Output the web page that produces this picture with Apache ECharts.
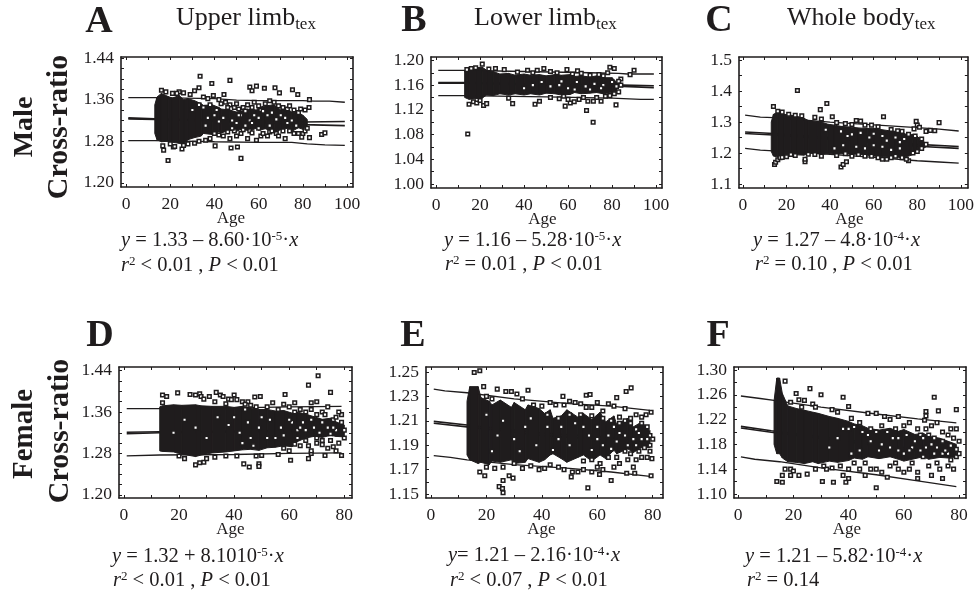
<!DOCTYPE html>
<html><head><meta charset="utf-8">
<style>html,body{margin:0;padding:0;background:#fff}#c{width:977px;height:592px}</style>
<script src="https://cdn.jsdelivr.net/npm/echarts@6/dist/echarts.min.js"></script>
</head><body><div id="c"></div>
<script>
const xTicks100=[0,10,20,30,40,50,60,70,80,90,100];
const xLabels100=[0,20,40,60,80,100];
const xTicks80=[0,10,20,30,40,50,60,70,80];
const xLabels80=[0,20,40,60,80];

const yLabelsA=[1.20,1.28,1.36,1.44];
const yLabelsB=[1.00,1.04,1.08,1.12,1.16,1.20];
const yLabelsC=[1.1,1.2,1.3,1.4,1.5];
const yLabelsD=[1.20,1.28,1.36,1.44];
const yLabelsE=[1.15,1.17,1.19,1.21,1.23,1.25];
const yLabelsF=[1.10,1.14,1.18,1.22,1.26,1.30];

const yTicksA=[1.20,1.22,1.24,1.26,1.28,1.30,1.32,1.34,1.36,1.38,1.40,1.42,1.44];
const yTicksB=[1.00,1.02,1.04,1.06,1.08,1.10,1.12,1.14,1.16,1.18,1.20];
const yTicksC=[1.10,1.15,1.20,1.25,1.30,1.35,1.40,1.45,1.50];
const yTicksD=yTicksA;
const yTicksE=[1.15,1.16,1.17,1.18,1.19,1.20,1.21,1.22,1.23,1.24,1.25];
const yTicksF=[1.10,1.12,1.14,1.16,1.18,1.20,1.22,1.24,1.26,1.28,1.30];

/* prediction / confidence lines: [age, ratio] */
const upperA=[[1,1.364],[13,1.364],[40,1.362],[50,1.359],[60,1.358],[70,1.358],[80,1.358],[85,1.357],[92,1.357],[99,1.355]];
const midHiA=[[1,1.325],[13,1.323],[60,1.319],[80,1.317],[99,1.318]];
const midLoA=[[1,1.323],[13,1.322],[60,1.316],[80,1.312],[99,1.310]];
const lowerA=[[1,1.281],[13,1.281],[40,1.279],[60,1.278],[75,1.278],[82,1.275],[90,1.273],[99,1.272]];

const upperB=[[1,1.184],[13,1.184],[40,1.182],[70,1.180],[83,1.179],[87,1.178],[99,1.178]];
const midHiB=[[1,1.164],[13,1.164],[60,1.161],[85,1.160],[99,1.159]];
const midLoB=[[1,1.163],[13,1.163],[60,1.159],[85,1.158],[99,1.156]];
const lowerB=[[1,1.143],[13,1.143],[50,1.141],[80,1.139],[93,1.137],[99,1.137]];

const upperC=[[1,1.322],[8,1.316],[14,1.314],[40,1.300],[60,1.291],[80,1.282],[90,1.277],[99,1.271]];
const midHiC=[[1,1.268],[14,1.263],[50,1.245],[80,1.228],[99,1.221]];
const midLoC=[[1,1.263],[14,1.258],[50,1.240],[80,1.222],[99,1.215]];
const lowerC=[[1,1.215],[8,1.209],[14,1.207],[40,1.196],[60,1.186],[80,1.175],[90,1.171],[99,1.167]];

const upperD=[[1,1.3665],[13,1.3665],[40,1.368],[60,1.370],[79,1.371]];
const midHiD=[[1,1.321],[13,1.322],[50,1.324],[79,1.328]];
const midLoD=[[1,1.318],[13,1.320],[50,1.322],[79,1.324]];
const lowerD=[[1,1.2755],[13,1.277],[40,1.278],[60,1.280],[79,1.281]];

const upperE=[[1,1.236],[5,1.2345],[13,1.233],[30,1.228],[50,1.224],[65,1.222],[79,1.2185]];
const midHiE=[[1,1.2095],[13,1.2065],[40,1.200],[60,1.197],[79,1.193]];
const midLoE=[[1,1.208],[13,1.205],[40,1.198],[60,1.195],[79,1.190]];
const lowerE=[[1,1.1815],[7,1.180],[13,1.178],[30,1.174],[50,1.171],[65,1.168],[79,1.1645]];

const upperF=[[1,1.258],[8,1.254],[13,1.251],[30,1.240],[50,1.229],[65,1.221],[79,1.2147]];
const midHiF=[[1,1.209],[12,1.202],[40,1.187],[60,1.175],[79,1.163]];
const midLoF=[[1,1.2065],[12,1.1995],[40,1.184],[60,1.172],[79,1.159]];
const lowerF=[[1,1.160],[6,1.156],[15,1.152],[30,1.142],[50,1.131],[65,1.121],[79,1.112]];

/* solid overplotted mass of squares: [age, low, high] */
const coreA=[[13,1.295,1.35],[14,1.283,1.365],[16,1.279,1.372],[19,1.280,1.366],[21,1.278,1.363],[24,1.276,1.368],[26,1.274,1.360],[28,1.283,1.362],[31,1.287,1.358],[34,1.290,1.352],[35,1.295,1.349],[39,1.293,1.350],[42,1.298,1.345],[43,1.296,1.342],[47,1.301,1.340],[50,1.299,1.336],[52,1.303,1.338],[56,1.300,1.342],[59,1.305,1.340],[60,1.301,1.345],[63,1.304,1.348],[67,1.298,1.350],[70,1.302,1.340],[73,1.305,1.342],[75,1.299,1.336],[78,1.306,1.335],[80,1.303,1.330],[82,1.31,1.322]];
const coreB=[[13,1.14,1.183],[15,1.137,1.186],[18,1.138,1.188],[21,1.139,1.189],[23,1.144,1.184],[26,1.143,1.182],[29,1.146,1.178],[33,1.144,1.179],[36,1.146,1.176],[40,1.144,1.178],[43,1.146,1.176],[47,1.144,1.177],[50,1.147,1.175],[54,1.146,1.177],[57,1.144,1.176],[61,1.145,1.177],[63,1.148,1.174],[66,1.146,1.175],[70,1.147,1.173],[73,1.148,1.175],[76,1.146,1.172],[80,1.148,1.172],[82,1.15,1.165]];
const coreC=[[13,1.205,1.30],[14,1.19,1.325],[16,1.187,1.332],[19,1.190,1.325],[22,1.196,1.322],[25,1.194,1.318],[28,1.193,1.312],[30,1.20,1.305],[34,1.200,1.302],[36,1.194,1.30],[39,1.199,1.293],[42,1.196,1.290],[45,1.199,1.286],[49,1.196,1.284],[53,1.196,1.281],[57,1.193,1.279],[60,1.190,1.280],[64,1.188,1.275],[67,1.187,1.272],[70,1.187,1.270],[73,1.185,1.265],[76,1.190,1.258],[78,1.195,1.260],[80,1.20,1.254],[82,1.212,1.24],[84,1.22,1.232]];
const coreD=[[13,1.285,1.37],[14,1.284,1.372],[18,1.283,1.374],[21,1.279,1.373],[26,1.274,1.374],[28,1.277,1.372],[32,1.281,1.371],[37,1.283,1.371],[40,1.285,1.369],[43,1.287,1.371],[46,1.288,1.368],[49,1.286,1.365],[52,1.291,1.365],[55,1.292,1.362],[58,1.295,1.363],[61,1.293,1.358],[63,1.303,1.360],[66,1.31,1.356],[69,1.313,1.351],[72,1.311,1.346],[75,1.315,1.348],[77,1.313,1.341],[80,1.312,1.335]];
const coreE=[[13,1.182,1.226],[14,1.178,1.238],[17,1.175,1.238],[18,1.176,1.229],[21,1.174,1.226],[22,1.177,1.223],[25,1.176,1.227],[29,1.178,1.221],[30,1.175,1.225],[34,1.176,1.219],[35,1.179,1.223],[39,1.176,1.22],[41,1.178,1.216],[43,1.182,1.219],[44,1.183,1.212],[47,1.179,1.214],[49,1.176,1.219],[53,1.18,1.213],[55,1.182,1.216],[58,1.177,1.211],[61,1.182,1.217],[63,1.179,1.209],[66,1.186,1.214],[67,1.183,1.207],[71,1.187,1.212],[73,1.184,1.205],[76,1.188,1.209],[79,1.188,1.202]];
const coreF=[[13,1.18,1.25],[14,1.165,1.287],[15,1.165,1.287],[16,1.158,1.262],[18,1.152,1.242],[21,1.151,1.238],[24,1.149,1.235],[27,1.152,1.232],[29,1.149,1.23],[33,1.153,1.225],[36,1.151,1.222],[40,1.154,1.217],[42,1.158,1.213],[45,1.156,1.21],[47,1.16,1.206],[51,1.157,1.203],[55,1.16,1.206],[58,1.156,1.201],[60,1.153,1.204],[64,1.157,1.196],[67,1.16,1.198],[69,1.156,1.193],[73,1.159,1.19],[76,1.158,1.185],[79,1.162,1.18]];

/* individually visible squares: [age, ratio] */
const pointsA=[[33.5,1.405],[38.8,1.391],[47,1.397],[31,1.377],[33,1.383],[24,1.375],[26,1.373],[19,1.243],[52,1.247],[17,1.263],[16.6,1.271],[56,1.384],[59,1.386],[57,1.377],[62.6,1.382],[67.4,1.383],[69.4,1.373],[75.3,1.379],[77.7,1.37],[44.3,1.37],[39.5,1.368],[88.5,1.293],[90,1.296],[50.4,1.269],[47.5,1.267],[40.3,1.271],[21.4,1.269],[25.3,1.265],[79.5,1.288],[83,1.287],[83,1.36],[82.8,1.345],[81,1.34],[78,1.335],[16,1.378],[18,1.375],[21,1.372],[23,1.372],[29,1.37],[35,1.365],[37,1.362],[42,1.36],[43,1.352],[45,1.355],[47,1.35],[49,1.345],[50,1.352],[51,1.342],[53,1.345],[54,1.338],[55,1.35],[57,1.345],[58,1.355],[60,1.348],[61,1.34],[63,1.352],[65,1.358],[67,1.355],[69,1.348],[71,1.345],[73,1.342],[74,1.348],[76,1.34],[79,1.342],[40,1.295],[42,1.292],[44,1.29],[46,1.298],[47,1.285],[49,1.30],[50,1.29],[52,1.295],[53,1.302],[55,1.285],[56,1.30],[57,1.296],[59,1.282],[60,1.305],[61,1.29],[62,1.295],[64,1.29],[65,1.298],[66,1.30],[68,1.295],[69,1.29],[71,1.30],[72,1.285],[74,1.30],[76,1.295],[78,1.295],[80,1.295],[81,1.30],[82,1.305],[33,1.28],[36,1.282],[38,1.285],[20,1.275],[22,1.27],[26,1.272],[28,1.275],[31,1.276],[35,1.345],[38,1.35],[40,1.33],[44,1.325],[48,1.32],[52,1.33],[56,1.32],[60,1.325],[64,1.33],[68,1.322],[72,1.325],[36,1.31],[42,1.318],[50,1.315],[58,1.33],[66,1.335],[75,1.32],[46,1.345],[51,1.33],[54,1.31],[57,1.315],[62,1.338],[70,1.33],[73,1.315],[77,1.31],[41,1.34],[37,1.325],[33,1.35],[30,1.34],[48,1.305],[65,1.31]];
const pointsB=[[68.4,1.119],[71.4,1.10],[34.8,1.13],[58.7,1.126],[81.8,1.128],[21,1.194],[79,1.189],[81,1.187],[90,1.184],[88.2,1.177],[15,1.129],[21.6,1.127],[23,1.13],[45,1.129],[31,1.185],[41.6,1.184],[46,1.184],[49,1.187],[59.5,1.185],[64.3,1.183],[84,1.17],[83,1.166],[61,1.131],[62.8,1.133],[69,1.134],[71.5,1.134],[75,1.134],[17,1.133],[18.5,1.131],[20,1.135],[33,1.139],[47,1.134],[52,1.14],[56,1.138],[58,1.142],[60,1.137],[65,1.137],[67,1.14],[73,1.14],[77,1.142],[79,1.143],[81,1.146],[83,1.149],[82,1.158],[84,1.16],[78,1.18],[76,1.175],[74,1.177],[70,1.176],[66,1.179],[62,1.178],[55,1.18],[52,1.182],[44,1.18],[37,1.181],[27,1.187],[14,1.185],[16,1.187],[18,1.188],[24,1.186],[40,1.155],[44,1.16],[48,1.165],[52,1.158],[56,1.16],[60,1.155],[64,1.165],[68,1.158],[72,1.162],[76,1.16],[80,1.165],[57,1.166],[63,1.153],[70,1.153],[75,1.155],[14.4,1.081]];
const pointsC=[[25,1.402],[38.5,1.36],[35.5,1.34],[14,1.35],[41,1.317],[64.5,1.317],[90,1.298],[79.5,1.302],[80,1.29],[78.5,1.278],[81,1.283],[84,1.27],[86,1.273],[88,1.272],[45,1.155],[46,1.163],[47.5,1.172],[14.5,1.163],[15,1.17],[16,1.178],[17,1.185],[28.5,1.172],[28.5,1.18],[16,1.335],[18,1.332],[21,1.325],[24,1.322],[27,1.32],[33,1.315],[36,1.31],[52,1.305],[54,1.303],[43,1.298],[47,1.295],[50,1.292],[56,1.29],[59,1.29],[62,1.285],[68,1.276],[71,1.272],[73,1.27],[76,1.26],[79,1.255],[82,1.245],[84,1.228],[82,1.215],[80,1.205],[78,1.20],[76,1.175],[75,1.18],[73,1.185],[70,1.19],[68,1.185],[66,1.18],[64,1.18],[62,1.185],[59,1.19],[56,1.19],[53,1.195],[50,1.19],[47,1.198],[43,1.192],[36,1.19],[33,1.195],[30,1.196],[24,1.192],[22,1.195],[20,1.188],[18,1.186],[50,1.26],[54,1.265],[58,1.25],[60,1.262],[64,1.255],[66,1.24],[70,1.25],[72,1.235],[74,1.245],[45,1.27],[48,1.255],[52,1.22],[56,1.215],[60,1.225],[64,1.22],[68,1.21],[72,1.215],[42,1.215],[46,1.225],[38,1.275]];
const pointsD=[[70.5,1.43],[67,1.412],[75,1.398],[58.5,1.394],[49.5,1.39],[47.5,1.389],[54,1.378],[58,1.375],[62,1.378],[68,1.378],[70,1.38],[19.5,1.397],[24,1.394],[26,1.393],[27.5,1.395],[28,1.39],[31,1.39],[33.5,1.398],[35,1.393],[36,1.39],[38,1.385],[40,1.393],[39,1.384],[41,1.384],[43,1.38],[45,1.38],[14,1.393],[15.5,1.39],[14,1.378],[29,1.385],[33,1.38],[37,1.376],[44,1.375],[46,1.373],[60.5,1.267],[67,1.27],[43.5,1.26],[45.5,1.254],[49,1.26],[49,1.255],[26,1.258],[27.5,1.262],[29,1.263],[30,1.27],[22,1.27],[20,1.275],[33,1.273],[37,1.275],[41,1.275],[48,1.275],[50,1.276],[56,1.278],[68,1.28],[73,1.276],[79,1.276],[77,1.285],[76,1.293],[74,1.29],[72,1.297],[70,1.30],[66,1.305],[64,1.295],[62,1.298],[60,1.285],[58,1.29],[68,1.285],[63,1.31],[67,1.295],[72,1.305],[75,1.305],[78,1.30],[80,1.31],[79,1.355],[78,1.36],[76,1.345],[74,1.37],[72,1.36],[70,1.355],[68,1.365],[66,1.36],[64,1.365],[62,1.36],[60,1.37],[56,1.365],[52,1.37],[48,1.37],[44,1.365],[77,1.35],[73,1.355],[65,1.34],[69,1.33],[71,1.32],[75,1.318],[63,1.325],[61,1.34],[57,1.33],[53,1.345],[49,1.33],[45,1.34],[42,1.32],[38,1.335],[34,1.35],[30,1.31],[26,1.33],[22,1.345],[18,1.32],[43,1.30],[47,1.295],[52,1.31],[58,1.315],[80,1.325],[74,1.33],[66,1.325],[79,1.34],[77,1.325],[72,1.34],[68,1.345],[64,1.33],[60,1.345],[55,1.31],[50,1.35],[46,1.31],[40,1.35],[70,1.31],[76,1.33]];
const pointsE=[[15.6,1.2496],[17.6,1.251],[23.9,1.236],[35,1.235],[27,1.234],[29,1.234],[47.6,1.23],[56,1.231],[57.4,1.2315],[70.4,1.234],[72.2,1.237],[67,1.229],[24.6,1.156],[25.8,1.1545],[26,1.151],[26,1.161],[56.6,1.155],[65,1.161],[17.6,1.168],[19.4,1.165],[28.2,1.165],[29.6,1.163],[50.6,1.164],[60.8,1.166],[70.6,1.167],[73.5,1.167],[79.4,1.165],[79.7,1.179],[79.4,1.217],[77.6,1.215],[76,1.213],[74,1.215],[72,1.212],[70,1.22],[68,1.213],[66,1.222],[64,1.224],[62,1.218],[60,1.225],[58,1.221],[56,1.221],[54,1.224],[52,1.225],[50,1.226],[48,1.223],[45,1.223],[43,1.225],[40,1.222],[37,1.223],[33,1.228],[31,1.232],[20,1.23],[22,1.228],[19,1.238],[20,1.172],[23,1.171],[26,1.172],[30,1.175],[33,1.171],[36,1.173],[39,1.17],[41,1.171],[43,1.174],[46,1.172],[48,1.17],[51,1.168],[53,1.168],[55,1.17],[58,1.168],[60,1.172],[62,1.17],[66,1.172],[68,1.175],[71,1.178],[73,1.172],[74,1.178],[76,1.18],[78,1.18],[79,1.185],[80,1.195],[79,1.19],[77,1.188],[75,1.185],[72,1.183],[70,1.185],[67,1.18],[64,1.18],[61,1.175],[58,1.178],[55,1.177],[78,1.205],[76,1.208],[74,1.203],[72,1.208],[70,1.21],[68,1.208],[65,1.21],[62,1.212],[58,1.214],[54,1.215],[50,1.215],[46,1.212],[42,1.215],[76,1.195],[73,1.195],[70,1.198],[67,1.193],[64,1.198],[60,1.195],[55,1.205],[50,1.19],[46,1.195],[42,1.205],[38,1.19],[34,1.205],[30,1.195],[26,1.21],[22,1.185],[60,1.205],[68,1.20],[79,1.198],[75,1.20],[71,1.19],[66,1.205],[62,1.19],[57,1.198],[52,1.208],[47,1.205],[44,1.186],[36,1.212],[32,1.185],[24,1.198],[20,1.215],[58,1.186],[65,1.187],[74,1.19],[78,1.195]];
const pointsF=[[71,1.256],[79,1.236],[72.5,1.234],[68,1.233],[68,1.226],[67.5,1.219],[26,1.27],[21,1.262],[30,1.26],[38,1.256],[17,1.282],[40,1.241],[22,1.252],[24,1.251],[19,1.248],[23,1.24],[27,1.245],[28,1.24],[34,1.236],[36,1.232],[14,1.12],[16,1.119],[16,1.13],[30.5,1.12],[34.5,1.119],[39,1.119],[40,1.125],[50,1.11],[74,1.125],[65,1.125],[54,1.127],[46,1.13],[38,1.13],[32,1.14],[28,1.14],[22,1.13],[19,1.13],[25,1.132],[17,1.14],[19,1.14],[20,1.137],[50,1.23],[47,1.23],[53,1.225],[58,1.225],[55,1.22],[62,1.215],[65,1.205],[60,1.21],[57,1.205],[52,1.21],[48,1.205],[44,1.215],[41,1.222],[42,1.208],[77,1.205],[79,1.205],[76,1.195],[74,1.20],[72,1.215],[70,1.21],[68,1.205],[66,1.195],[71,1.19],[78,1.19],[80,1.185],[79,1.16],[80,1.165],[77,1.155],[76,1.145],[74,1.165],[73,1.14],[72,1.15],[70,1.13],[69,1.145],[67,1.16],[65,1.135],[63,1.15],[62,1.14],[60,1.135],[58,1.14],[57,1.15],[55,1.145],[52,1.135],[50,1.14],[48,1.14],[46,1.15],[44,1.14],[42,1.15],[40,1.14],[37,1.145],[34,1.142],[31,1.145],[78,1.14],[76,1.165],[71,1.165],[68,1.175],[64,1.185],[61,1.195],[58,1.19],[54,1.20],[50,1.20],[47,1.195],[44,1.17],[40,1.205],[36,1.19],[60,1.165],[66,1.17],[72,1.175],[74,1.185],[55,1.175],[52,1.18],[69,1.195],[63,1.175],[79,1.172],[77,1.178],[75,1.17],[70,1.18],[67,1.19],[62,1.17],[58,1.17],[56,1.19],[51,1.17],[48,1.185],[45,1.2],[41,1.165],[38,1.205],[33,1.175]];

const yBounds={A:[1.192,1.442],B:[0.9935,1.2055],C:[1.087,1.51],D:[1.194,1.447],E:[1.1467,1.2541],F:[1.0935,1.3048]};
const panels=[
 {k:'A',b:[121,57,232,130],xr:[-2.3,102.7],xT:xTicks100,xL:xLabels100,yT:yTicksA,yL:yLabelsA,d:2,lines:[upperA,midHiA,midLoA,lowerA],core:coreA,pts:pointsA,age:12},
 {k:'B',b:[431,57,231,131],xr:[-2.3,102.7],xT:xTicks100,xL:xLabels100,yT:yTicksB,yL:yLabelsB,d:2,lines:[upperB,midHiB,midLoB,lowerB],core:coreB,pts:pointsB,age:8},
 {k:'C',b:[739,57,231,131],xr:[-1.8,103.2],xT:xTicks100,xL:xLabels100,yT:yTicksC,yL:yLabelsC,d:1,lines:[upperC,midHiC,midLoC,lowerC],core:coreC,pts:pointsC,age:8},
 {k:'D',b:[119,367,233,131],xr:[-1.8,82.8],xT:xTicks80,xL:xLabels80,yT:yTicksD,yL:yLabelsD,d:2,lines:[upperD,midHiD,midLoD,lowerD],core:coreD,pts:pointsD,age:10},
 {k:'E',b:[426,367,237,131],xr:[-1.8,83.7],xT:xTicks80,xL:xLabels80,yT:yTicksE,yL:yLabelsE,d:2,lines:[upperE,midHiE,midLoE,lowerE],core:coreE,pts:pointsE,age:6},
 {k:'F',b:[734,367,232,131],xr:[-1.5,82.5],xT:xTicks80,xL:xLabels80,yT:yTicksF,yL:yLabelsF,d:2,lines:[upperF,midHiF,midLoF,lowerF],core:coreF,pts:pointsF,age:6}
];
const ink='#1f1c1d', serif='"Liberation Serif","Times New Roman",serif';
const grid=[],xAxis=[],yAxis=[],series=[];
panels.forEach((p,i)=>{
 grid.push({left:p.b[0],top:p.b[1],width:p.b[2],height:p.b[3]});
 const line={show:true,onZero:false,lineStyle:{color:ink,width:1.6}};
 const tick=v=>({show:true,inside:true,length:3,customValues:v,lineStyle:{color:ink,width:1}});
 xAxis.push({type:'value',gridIndex:i,min:p.xr[0],max:p.xr[1],axisLine:line,axisTick:tick(p.xT),splitLine:{show:false},
   name:'Age',nameLocation:'middle',nameGap:23,nameMoveOverlap:false,nameTextStyle:{fontFamily:serif,fontSize:17,color:ink,padding:[0,p.age,0,0]},
   axisLabel:{show:true,customValues:p.xL,margin:8,fontFamily:serif,fontSize:17.5,color:ink,formatter:v=>String(v)}});
 xAxis.push({type:'value',gridIndex:i,position:'top',min:p.xr[0],max:p.xr[1],axisLine:line,axisTick:tick(p.xT),splitLine:{show:false},axisLabel:{show:false}});
 yAxis.push({type:'value',gridIndex:i,min:yBounds[p.k][0],max:yBounds[p.k][1],axisLine:line,axisTick:tick(p.yT),splitLine:{show:false},
   axisLabel:{show:true,customValues:p.yL,margin:7,fontFamily:serif,fontSize:17.5,color:ink,formatter:v=>v.toFixed(p.d)}});
 yAxis.push({type:'value',gridIndex:i,position:'right',min:yBounds[p.k][0],max:yBounds[p.k][1],axisLine:line,axisTick:tick(p.yT),splitLine:{show:false},axisLabel:{show:false}});
 const xi=i*2,yi=i*2;
 p.lines.forEach((l,j)=>series.push({type:'line',xAxisIndex:xi,yAxisIndex:yi,data:l,showSymbol:false,silent:true,z:2,lineStyle:{color:ink,width:(j===1||j===2)?1.6:1.3}}));
 const core=p.core;
 series.push({type:'custom',xAxisIndex:xi,yAxisIndex:yi,data:core,z:3,silent:true,encode:{x:0,y:[1,2]},
   renderItem:(params,api)=>{
     const n=params.dataIndex; if(n>=core.length-1) return null;
     const a=core[n],b=core[n+1];
     return {type:'polygon',shape:{points:[api.coord([a[0],a[1]]),api.coord([b[0],b[1]]),api.coord([b[0],b[2]]),api.coord([a[0],a[2]])]},style:{fill:ink,stroke:ink,lineWidth:1}};
   }});
 series.push({type:'scatter',xAxisIndex:xi,yAxisIndex:yi,data:p.pts,symbol:'rect',symbolSize:3.6,z:4,silent:true,itemStyle:{color:'#fff',borderColor:ink,borderWidth:1.5,opacity:1}});
});

const T=(text,x,y,size,extra)=>Object.assign({type:'text',x,y,style:Object.assign({text,fill:ink,font:size+'px '+serif,textVerticalAlign:'middle'},extra&&extra.style)},extra&&extra.el);
const letter=(t,x,y)=>T(t,x,y,38,{style:{font:'bold 38px '+serif,textAlign:'center'}});
const vert=(t,x,y,size)=>T(t,x,y,size,{el:{rotation:Math.PI/2},style:{font:'bold '+size+'px '+serif,textAlign:'center'}});
const rich={i:{fontFamily:serif,fontStyle:'italic',fontSize:20.5,fill:ink,lineHeight:22},n:{fontFamily:serif,fontSize:20.5,fill:ink,lineHeight:22},s:{fontFamily:serif,fontSize:13,fill:ink,verticalAlign:'top',lineHeight:22},
 b:{fontFamily:serif,fontSize:26,fill:ink,lineHeight:30},u:{fontFamily:serif,fontSize:17,fill:ink,verticalAlign:'bottom',lineHeight:30}};
const R=(text,x,y)=>({type:'text',x,y,style:{text,rich,textVerticalAlign:'middle'}});
const texts=[
 letter('A',99,22),letter('B',414,21),letter('C',719,21),letter('D',100,336),letter('E',413,336),letter('F',718,336),
 R('{b|Upper limb}{u|tex}',176,18),R('{b|Lower limb}{u|tex}',474,18),R('{b|Whole body}{u|tex}',787,18),
 vert('Male',25,127,28),vert('Cross-ratio',59,127,30),vert('Female',25,434,29),vert('Cross-ratio',60,431,30),
 R('{i|y}{n| = 1.33 – 8.60·10}{s|-5}{n|·}{i|x}',121,241),R('{i|r}{s|2}{n| < 0.01 , }{i|P}{n| < 0.01}',121,266),
 R('{i|y}{n| = 1.16 – 5.28·10}{s|-5}{n|·}{i|x}',444,241),R('{i|r}{s|2}{n| = 0.01 , }{i|P}{n| < 0.01}',445,265),
 R('{i|y}{n| = 1.27 – 4.8·10}{s|-4}{n|·}{i|x}',753,241),R('{i|r}{s|2}{n| = 0.10 , }{i|P}{n| < 0.01}',755,265),
 R('{i|y}{n| = 1.32 + 8.1010}{s|-5}{n|·}{i|x}',112,557),R('{i|r}{s|2}{n| < 0.01 , }{i|P}{n| < 0.01}',113,581),
 R('{i|y}{n|= 1.21 – 2.16·10}{s|-4}{n|·}{i|x}',448,556),R('{i|r}{s|2}{n| < 0.07 , }{i|P}{n| < 0.01}',450,581),
 R('{i|y}{n| = 1.21 – 5.82·10}{s|-4}{n|·}{i|x}',745,557),R('{i|r}{s|2}{n| = 0.14}',747,581)
];
const chart=echarts.init(document.getElementById('c'),null,{renderer:'canvas'});
chart.setOption({animation:false,backgroundColor:'#fff',grid,xAxis,yAxis,series,graphic:{elements:texts}});
</script></body></html>
